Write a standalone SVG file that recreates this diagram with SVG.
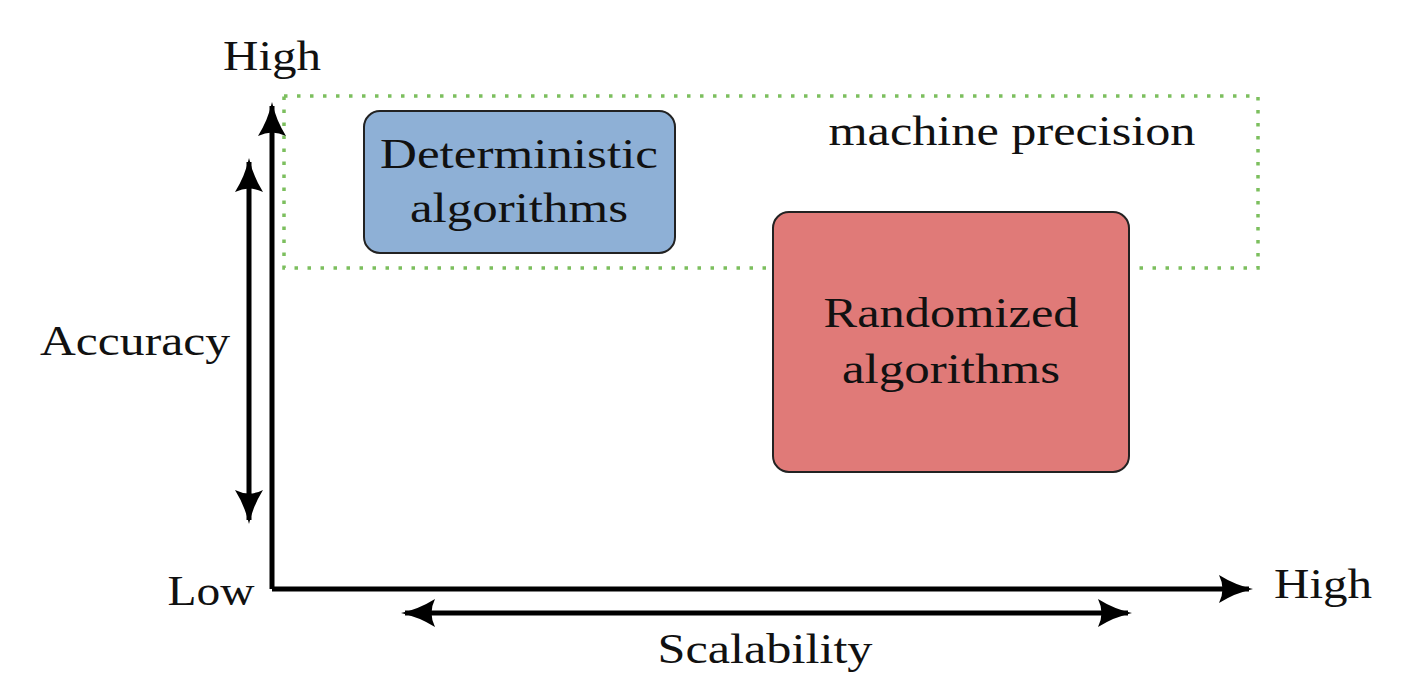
<svg xmlns="http://www.w3.org/2000/svg" width="1426" height="684" viewBox="0 0 1426 684">
<style>
text{font-family:"Liberation Serif","DejaVu Serif",serif;font-size:42px;fill:#111}
.ax{stroke:#000;stroke-width:5;fill:none}
.node rect{stroke:#222;stroke-width:2}
</style>
<defs>
<marker id="ah" viewBox="0 0 34 28" refX="30" refY="14" markerWidth="34" markerHeight="28" markerUnits="userSpaceOnUse" orient="auto-start-reverse">
<path d="M0,0 Q16,10 34,14 Q16,18 0,28 Q7,14 0,0 Z" fill="#000"/>
</marker>
</defs>
<rect width="1426" height="684" fill="#fff"/>
<g id="precision-band">
<rect x="284" y="96" width="974" height="172" fill="none" stroke="#7cbf5e" stroke-width="3.5" stroke-dasharray="3.5,9.5"/>
<text x="1012" y="145" text-anchor="middle" textLength="367" lengthAdjust="spacingAndGlyphs">machine precision</text>
</g>
<g id="connectors">
<path class="ax" d="M272,589 V106" marker-end="url(#ah)"/>
<path class="ax" d="M272,589 H1249" marker-end="url(#ah)"/>
<path class="ax" d="M249,162 V520" marker-start="url(#ah)" marker-end="url(#ah)"/>
<path class="ax" d="M405,613 H1128" marker-start="url(#ah)" marker-end="url(#ah)"/>
</g>
<g id="deterministic" class="node">
<rect x="364" y="111" width="311" height="142" rx="16" fill="#8eb0d6"/>
<text x="519" y="168" text-anchor="middle" textLength="278" lengthAdjust="spacingAndGlyphs">Deterministic</text>
<text x="519" y="222" text-anchor="middle" textLength="218" lengthAdjust="spacingAndGlyphs">algorithms</text>
</g>
<g id="randomized" class="node">
<rect x="773" y="212" width="356" height="260" rx="16" fill="#e07a78"/>
<text x="951" y="327" text-anchor="middle" textLength="255" lengthAdjust="spacingAndGlyphs">Randomized</text>
<text x="951" y="383" text-anchor="middle" textLength="218" lengthAdjust="spacingAndGlyphs">algorithms</text>
</g>
<g id="labels">
<text x="272" y="70" text-anchor="middle" textLength="98" lengthAdjust="spacingAndGlyphs">High</text>
<text x="211" y="605" text-anchor="middle" textLength="87" lengthAdjust="spacingAndGlyphs">Low</text>
<text x="1323" y="598" text-anchor="middle" textLength="98" lengthAdjust="spacingAndGlyphs">High</text>
<text x="135" y="355" text-anchor="middle" textLength="190" lengthAdjust="spacingAndGlyphs">Accuracy</text>
<text x="765" y="663" text-anchor="middle" textLength="215" lengthAdjust="spacingAndGlyphs">Scalability</text>
</g>
</svg>
